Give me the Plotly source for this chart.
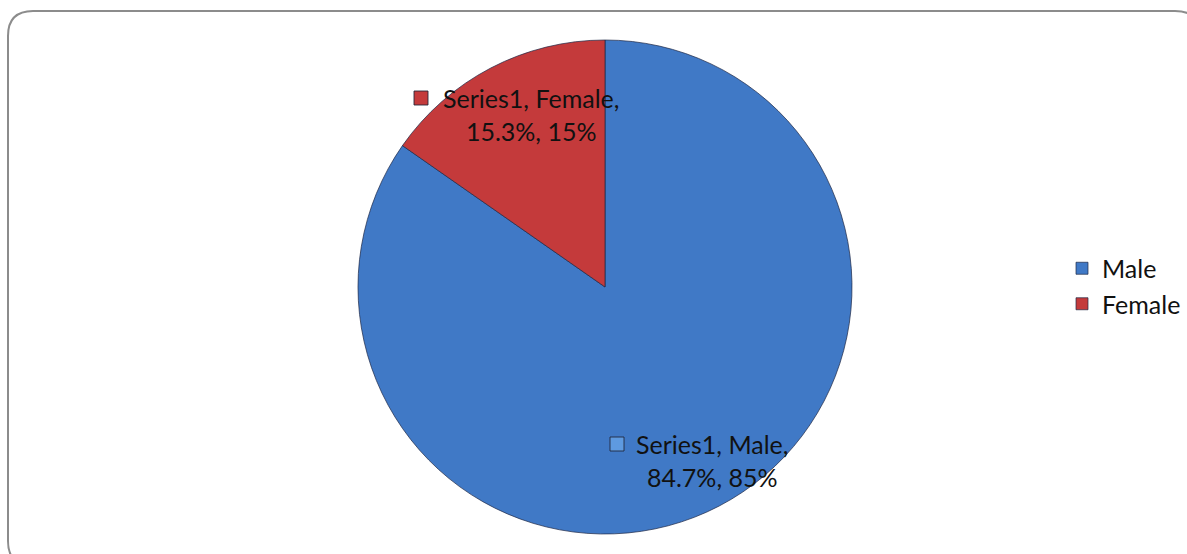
import plotly.graph_objects as go

W, H = 1187, 554

series_name = "Series1"
labels = ["Male", "Female"]
values = [84.7, 15.3]
rounded = [85, 15]
colors = ["#4079C6", "#C43A3B"]
marker_colors = ["#5E9AE0", "#C43A3B"]

def px(x):
    return x / W

def py(y):
    return 1 - y / H

fig = go.Figure()
fig.add_trace(go.Pie(
    labels=labels,
    values=values,
    sort=False,
    direction="clockwise",
    rotation=0,
    textinfo="none",
    hoverinfo="label+percent",
    marker=dict(colors=colors, line=dict(color="rgba(30,40,70,0.7)", width=1)),
    domain=dict(x=[px(358), px(852)], y=[py(534), py(40)]),
    showlegend=True,
))

# data label positions (pixel centers of the text blocks and the small markers)
label_pos = {"Male": (712, 461, 617, 444), "Female": (531, 114, 421, 98)}
font_family = "Lato, Carlito, Calibri, sans-serif"
for lab, val, rnd, mcol in zip(labels, values, rounded, marker_colors):
    tx, ty, mx, my = label_pos[lab]
    fig.add_annotation(
        x=px(tx), y=py(ty), xref="paper", yref="paper",
        text=f"{series_name}, {lab},<br>{val:.1f}%, {rnd}%",
        showarrow=False, align="center", xanchor="center", yanchor="middle",
        font=dict(family=font_family, size=25, color="#111111"),
    )
    fig.add_shape(
        type="rect", xref="paper", yref="paper",
        x0=px(mx - 7), x1=px(mx + 7), y0=py(my + 7), y1=py(my - 7),
        fillcolor=mcol, line=dict(color="rgba(30,35,55,0.85)", width=1),
    )

# rounded chart-area border
xl, xr, yt, yb = px(8), px(1200), py(11), py(566)
rx, ry = 25 / W, 25 / H
path = (f"M {xl},{yb + ry} L {xl},{yt - ry} Q {xl},{yt} {xl + rx},{yt} "
        f"L {xr - rx},{yt} Q {xr},{yt} {xr},{yt - ry} "
        f"L {xr},{yb + ry} Q {xr},{yb} {xr - rx},{yb} "
        f"L {xl + rx},{yb} Q {xl},{yb} {xl},{yb + ry} Z")
fig.add_shape(type="path", xref="paper", yref="paper", path=path,
              line=dict(color="#8C8C8C", width=2), fillcolor="rgba(0,0,0,0)")

fig.update_layout(
    width=W, height=H,
    margin=dict(l=0, r=0, t=0, b=0),
    paper_bgcolor="white", plot_bgcolor="white",
    font=dict(family=font_family, size=25, color="#111111"),
    legend=dict(
        x=px(1062), y=py(286), xanchor="left", yanchor="middle",
        font=dict(family=font_family, size=25, color="#111111"),
        bgcolor="rgba(0,0,0,0)", itemclick=False, itemdoubleclick=False,
    ),
)

fig.write_html("out.html",
               config={"displayModeBar": False},
               post_script="document.body.style.margin='0';document.body.style.padding='0';")
